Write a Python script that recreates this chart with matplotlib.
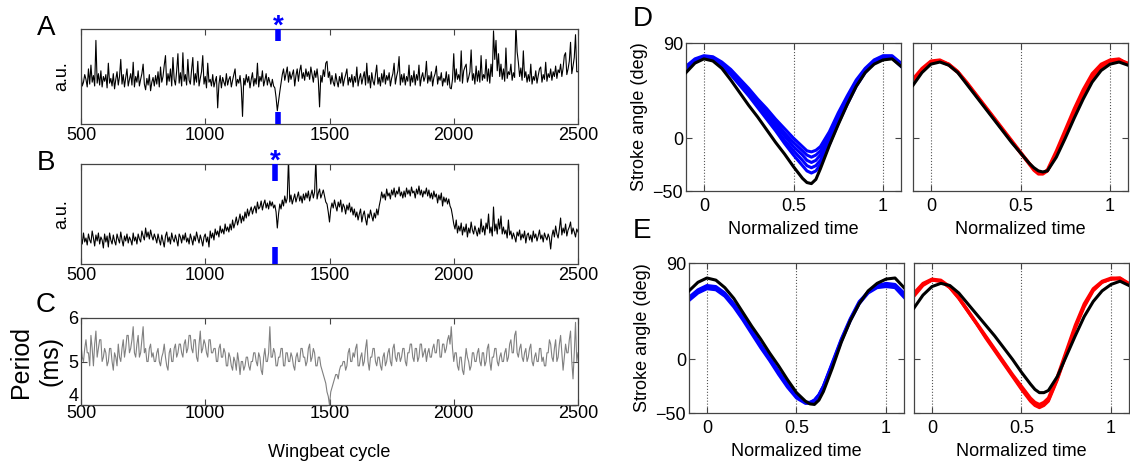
import matplotlib
matplotlib.use("Agg")
import matplotlib.pyplot as plt
from matplotlib.transforms import blended_transform_factory, offset_copy

plt.rcParams["font.family"] = ["Liberation Sans", "DejaVu Sans"]
plt.rcParams["font.size"] = 13

# ---- panels A-C: wingbeat cycles 500..2500, one value every 5 cycles
cycles = list(range(500, 2501, 5))

# A: a.u. (0 = bottom of box, 100 = top)
trace_a = [
    55, 40, 44, 52, 47, 39, 58, 42, 62, 44, 51, 40, 88, 43, 53, 41, 56, 39, 50, 45,
    52, 38, 64, 43, 48, 40, 53, 37, 47, 55, 41, 50, 68, 42, 52, 39, 49, 58, 40, 47,
    53, 41, 65, 39, 50, 44, 56, 40, 47, 53, 63, 42, 36, 48, 41, 52, 35, 44, 49, 40,
    51, 42, 55, 39, 60, 44, 50, 62, 72, 41, 53, 45, 58, 40, 70, 47, 41, 56, 74, 43,
    54, 40, 75, 45, 52, 41, 68, 46, 42, 57, 70, 41, 53, 44, 66, 40, 48, 55, 72, 42,
    50, 38, 64, 44, 47, 40, 52, 39, 45, 50, 17, 42, 51, 38, 49, 44, 40, 53, 41, 47,
    50, 39, 46, 52, 58, 40, 47, 43, 51, 38, 8, 48, 41, 52, 44, 50, 38, 47, 54, 40,
    48, 42, 64, 39, 50, 45, 56, 40, 46, 53, 41, 49, 44, 39, 47, 40, 38, 28, 14, 24,
    34, 43, 52, 58, 46, 53, 60, 44, 55, 47, 52, 57, 40, 51, 58, 45, 56, 62, 48, 54,
    46, 58, 50, 55, 47, 60, 52, 44, 56, 49, 58, 46, 18, 51, 44, 57, 50, 64, 66, 49,
    55, 42, 51, 44, 40, 53, 45, 39, 50, 43, 54, 40, 47, 52, 58, 41, 49, 44, 52, 39,
    50, 44, 60, 40, 48, 53, 42, 49, 55, 41, 64, 43, 51, 38, 54, 45, 41, 52, 62, 42,
    49, 40, 53, 44, 57, 42, 51, 46, 54, 40, 48, 53, 64, 42, 50, 56, 71, 41, 52, 44,
    53, 41, 50, 45, 62, 40, 51, 44, 56, 41, 52, 46, 62, 40, 49, 54, 45, 50, 66, 43,
    51, 45, 55, 40, 49, 53, 61, 42, 50, 46, 54, 40, 48, 44, 55, 41, 52, 38, 37, 47,
    74, 44, 58, 47, 52, 45, 77, 43, 56, 60, 63, 44, 49, 55, 78, 46, 53, 42, 61, 45,
    56, 44, 72, 46, 52, 48, 68, 45, 58, 43, 63, 50, 98, 68, 88, 56, 74, 50, 63, 47,
    58, 45, 80, 48, 55, 52, 63, 46, 54, 49, 105, 76, 65, 50, 59, 46, 77, 49, 55, 44,
    52, 45, 63, 42, 50, 46, 56, 43, 51, 58, 60, 44, 52, 47, 65, 45, 53, 49, 58, 46,
    55, 50, 61, 48, 57, 54, 63, 50, 59, 72, 75, 52, 58, 66, 86, 53, 61, 70, 94, 55,
    55,
]

# B: a.u. (0 = bottom of box, 100 = top)
trace_b = [
    28, 20, 31, 22, 26, 19, 30, 24, 21, 33, 26, 18, 29, 23, 31, 20, 27, 24, 16, 30,
    22, 28, 17, 31, 24, 20, 29, 23, 19, 30, 25, 21, 32, 24, 18, 28, 23, 30, 21, 27,
    24, 19, 31, 23, 27, 20, 30, 25, 22, 33, 28, 24, 36, 27, 32, 25, 34, 28, 24, 30,
    26, 21, 30, 24, 19, 29, 23, 17, 28, 32, 22, 27, 20, 31, 25, 22, 29, 24, 18, 30,
    27, 21, 29, 24, 31, 22, 26, 20, 30, 25, 19, 28, 23, 32, 26, 21, 29, 24, 18, 27,
    30, 22, 27, 17, 33, 26, 31, 24, 35, 29, 33, 27, 38, 31, 35, 30, 40, 33, 37, 32,
    40, 34, 44, 36, 41, 47, 39, 44, 50, 41, 48, 43, 52, 46, 55, 48, 53, 57, 50, 55,
    58, 51, 62, 55, 57, 63, 54, 60, 64, 56, 61, 55, 63, 58, 62, 56, 59, 52, 36, 50,
    60, 55, 64, 58, 68, 61, 66, 105, 62, 69, 60, 65, 70, 62, 67, 72, 63, 68, 61, 70,
    64, 71, 66, 73, 63, 69, 74, 66, 72, 105, 65, 71, 75, 66, 70, 74, 68, 62, 60, 52,
    42, 55, 61, 56, 64, 58, 53, 62, 57, 64, 52, 60, 57, 50, 59, 54, 61, 52, 57, 49,
    55, 47, 52, 44, 50, 55, 42, 49, 53, 45, 39, 50, 46, 54, 48, 43, 51, 46, 55, 49,
    58, 64, 72, 66, 70, 64, 75, 68, 71, 65, 74, 69, 76, 67, 73, 70, 77, 68, 72, 66,
    73, 67, 76, 70, 74, 68, 77, 71, 73, 66, 75, 70, 78, 69, 74, 67, 73, 70, 76, 68,
    74, 66, 71, 65, 73, 67, 70, 61, 69, 64, 71, 58, 67, 62, 66, 60, 65, 58, 55, 48,
    40, 35, 44, 31, 38, 33, 41, 29, 37, 32, 40, 27, 36, 31, 42, 34, 30, 38, 33, 28,
    36, 30, 45, 32, 38, 29, 41, 35, 50, 31, 37, 28, 57, 33, 40, 30, 45, 35, 48, 30,
    37, 30, 34, 26, 44, 29, 33, 25, 31, 27, 22, 32, 28, 34, 24, 30, 26, 33, 21, 29,
    31, 24, 29, 22, 33, 26, 30, 23, 28, 34, 25, 29, 22, 31, 27, 24, 30, 26, 15, 28,
    34, 27, 38, 30, 26, 35, 46, 29, 36, 31, 40, 28, 34, 37, 42, 30, 36, 32, 27, 35,
    32,
]

# C: wingbeat period (ms)
period = [
    5.4, 5.1, 5.0, 5.3, 5.5, 5.2, 5.2, 4.9, 5.6, 5.3, 4.9, 5.4, 5.7, 5.1, 5.3, 5.5, 5.5, 5.0, 5.1, 5.3,
    5.2, 4.9, 5.0, 5.3, 5.3, 5.0, 4.8, 5.2, 5.1, 4.9, 5.4, 5.1, 5.0, 5.3, 5.5, 5.1, 5.3, 5.6, 5.6, 5.2,
    5.3, 5.5, 5.8, 5.2, 5.1, 5.4, 5.6, 5.1, 5.2, 5.5, 5.8, 5.2, 5.3, 5.0, 5.0, 5.3, 5.4, 5.1, 5.2, 5.0,
    5.0, 5.2, 5.3, 5.0, 4.9, 5.1, 5.2, 5.4, 5.1, 4.9, 4.8, 5.2, 5.3, 5.0, 5.0, 5.3, 5.4, 5.1, 5.2, 5.4,
    5.4, 5.2, 5.1, 5.4, 5.5, 5.2, 5.3, 5.6, 5.6, 5.3, 5.2, 5.5, 5.5, 5.1, 5.0, 5.4, 5.7, 5.2, 5.3, 5.5,
    5.4, 5.2, 5.1, 5.5, 5.5, 5.2, 5.2, 5.3, 5.3, 5.0, 5.0, 5.3, 5.4, 5.1, 5.1, 5.3, 5.2, 4.9, 4.9, 5.2,
    5.1, 4.9, 4.8, 5.1, 5.0, 4.8, 5.2, 5.0, 4.7, 5.0, 5.0, 4.8, 4.9, 5.1, 5.1, 4.9, 4.8, 5.0, 5.0, 5.2,
    5.2, 5.0, 4.9, 5.2, 5.1, 4.8, 4.7, 5.1, 5.3, 5.0, 5.0, 5.2, 5.8, 5.1, 5.1, 5.3, 5.2, 4.9, 4.9, 5.1,
    5.1, 5.3, 5.3, 4.9, 4.9, 5.2, 5.2, 5.0, 5.0, 5.2, 5.1, 4.9, 4.8, 5.1, 5.2, 5.0, 5.0, 5.3, 5.3, 5.1,
    5.1, 4.9, 5.0, 5.3, 5.4, 5.0, 5.1, 5.3, 5.2, 4.9, 4.9, 5.1, 5.1, 4.9, 4.8, 4.7, 4.6, 4.5, 4.3, 4.2,
    4.0, 4.3, 4.4, 4.5, 4.6, 4.7, 4.7, 4.6, 4.8, 4.9, 4.9, 5.0, 5.0, 4.8, 4.9, 5.2, 5.3, 5.0, 5.0, 5.2,
    5.1, 5.3, 5.4, 4.9, 4.9, 5.1, 5.2, 4.9, 5.0, 5.3, 5.5, 5.0, 4.8, 5.1, 5.1, 5.3, 5.3, 5.0, 4.9, 5.1,
    5.1, 4.9, 4.8, 5.1, 5.2, 4.9, 5.0, 5.2, 5.3, 5.0, 4.9, 5.3, 5.4, 5.1, 5.0, 5.2, 5.2, 5.0, 5.1, 5.3,
    5.3, 5.0, 4.9, 5.2, 5.2, 5.4, 5.4, 5.1, 5.0, 5.3, 5.3, 5.0, 5.1, 5.4, 5.4, 5.1, 5.2, 5.3, 5.0, 5.2,
    5.3, 5.1, 5.1, 5.3, 5.4, 5.2, 5.2, 5.5, 5.5, 5.1, 5.1, 5.4, 5.4, 5.2, 5.3, 5.5, 5.6, 5.4, 5.8, 5.3,
    5.0, 5.2, 5.2, 4.9, 4.8, 5.1, 5.1, 4.8, 4.7, 5.0, 5.3, 5.1, 5.0, 4.8, 4.9, 5.2, 5.2, 5.0, 5.0, 5.2,
    5.3, 5.0, 4.9, 5.2, 5.2, 4.9, 5.0, 5.3, 5.4, 5.0, 4.8, 5.1, 5.1, 5.3, 5.3, 5.0, 4.9, 5.1, 5.2, 5.0,
    5.0, 5.2, 5.3, 5.0, 5.1, 5.4, 5.5, 5.2, 5.2, 5.6, 5.7, 5.2, 5.1, 5.3, 5.4, 5.1, 5.0, 5.2, 5.3, 5.0,
    5.1, 5.3, 5.4, 5.0, 4.9, 5.1, 5.2, 5.0, 5.0, 5.3, 5.3, 5.0, 5.1, 4.9, 4.9, 5.2, 5.2, 5.5, 5.4, 5.1,
    5.0, 5.3, 5.5, 5.0, 5.1, 5.4, 5.6, 5.2, 4.8, 5.1, 5.4, 5.2, 5.2, 5.5, 5.7, 5.0, 4.6, 5.2, 5.9, 5.0,
    5.2,
]

stim_a = 1292   # blue marker (*) in A
stim_b = 1280   # blue marker (*) in B

# ---- panels D-E: stroke angle (deg) vs normalized time
t_norm = [-0.1, -0.05, 0, 0.05, 0.1, 0.15, 0.2, 0.25, 0.3, 0.35, 0.4, 0.45, 0.5,
          0.55, 0.575, 0.6, 0.625, 0.65, 0.7, 0.75, 0.8, 0.85, 0.9, 0.95, 1.0, 1.05, 1.1]

d_left_blue = [
    [68, 75, 78, 77, 72, 65, 56, 47, 37, 28, 18, 9, 0, -8, -12, -13, -11.5, -8, 6, 24, 40, 55, 66, 74, 78, 78, 71],
    [67, 74, 77, 76, 71, 63, 54, 45, 35, 25, 15, 5, -4, -12, -16, -18, -16, -12, 3, 21, 38, 53, 65, 73, 77, 77, 70],
    [66, 73, 77, 75, 70, 62, 53, 43, 33, 23, 12, 2, -8, -16, -21, -23, -21, -16, 0, 18, 36, 51, 64, 72, 77, 77, 69],
    [65, 72, 76, 75, 69, 61, 51, 41, 31, 20, 9, -2, -12, -21, -26, -28, -26, -21, -3, 16, 34, 50, 63, 72, 77, 76, 68],
    [64, 72, 76, 74, 68, 60, 50, 40, 29, 18, 7, -5, -16, -26, -31, -33, -31, -25, -6, 14, 32, 49, 62, 71, 76, 76, 68],
]
d_left_black = [62, 71, 75, 73, 66, 55, 43, 31, 20, 8, -4, -15, -27, -38, -42, -43, -39, -29, -7, 13, 32, 49, 62, 70, 74, 75, 68]

d_right_red = [
    [56, 66, 73, 74, 70, 63, 53, 42, 31, 20, 9, -2, -13, -24, -29.5, -33, -33, -30, -12, 8, 28, 46, 61, 70, 74, 75, 70],
    [53, 64, 72, 73, 70, 63, 52, 41, 30, 19, 8, -3, -14, -25, -30.5, -34, -34, -31, -15, 5, 25, 43, 58, 68, 73, 74, 70],
    [52, 63, 71, 73, 69, 62, 52, 41, 30, 19, 8, -3, -14, -24, -29.5, -33, -33, -31, -16, 3, 22, 40, 56, 67, 73, 74, 71],
]
d_right_black = [50, 62, 70, 72, 69, 62, 51, 40, 29, 18, 7, -4, -14, -24, -28, -31, -32, -31, -18, 0, 19, 37, 53, 64, 70, 72, 69]

e_left_blue = [
    [58, 65, 69, 68, 62, 52, 40, 27, 14, 2, -11, -23, -34, -40, -40.5, -38, -33, -25, -4, 18, 37, 53, 63, 69, 71, 70, 62],
    [55, 62, 66, 65, 59, 49, 37, 24, 11, -1, -14, -26, -36, -41, -41, -39, -34, -26, -5, 17, 36, 52, 62, 67, 68, 67, 58],
    [57, 64, 68, 66, 60, 51, 39, 26, 13, 0, -12, -25, -35, -40, -40, -38, -33, -25, -3, 19, 38, 54, 63, 68, 70, 69, 60],
]
e_left_black = [64, 72, 76, 74, 67, 57, 44, 31, 19, 6, -6, -19, -31, -39, -41.5, -42, -38, -30, -8, 16, 36, 52, 64, 71, 75, 76, 67]

e_right_red = [
    [62, 71, 75, 74, 68, 58, 46, 34, 22, 10, -2, -14, -25, -36, -40, -42, -40, -36, -16, 8, 32, 52, 66, 73, 76, 76, 71],
    [59, 69, 74, 73, 67, 57, 45, 33, 20, 8, -4, -16, -28, -39, -43, -45, -43, -39, -19, 5, 29, 49, 64, 72, 75, 75, 70],
    [60, 70, 74, 73, 67, 57, 45, 33, 21, 9, -3, -15, -27, -38, -42, -44, -42, -38, -18, 6, 30, 50, 65, 72, 75, 76, 70],
]
e_right_black = [48, 60, 68, 71, 69, 62, 52, 42, 32, 22, 11, 0, -12, -23, -28, -31, -31, -29, -16, 3, 22, 40, 54, 64, 70, 73, 69]

W, H = 1130, 463
fig = plt.figure(figsize=(W / 100, H / 100), dpi=100)


def px_axes(x0, y0, x1, y1):
    return fig.add_axes([x0 / W, 1 - y1 / H, (x1 - x0) / W, (y1 - y0) / H])


def style(ax):
    for s in ax.spines.values():
        s.set_color("#444444")
        s.set_linewidth(0.9)
    ax.tick_params(direction="in", top=True, right=True, length=4,
                   color="#444444", width=0.8, pad=2)


def trace_panel(ax, y, color, stim, bar_frac):
    ax.plot(cycles[:len(y)], y, color=color, lw=0.8)
    ax.set_xlim(500, 2500)
    ax.set_xticks([500, 1000, 1500, 2000, 2500])
    style(ax)
    if stim is not None:
        tr = blended_transform_factory(ax.transData, ax.transAxes)
        ax.plot([stim, stim], [1 - bar_frac, 1], transform=tr, color="blue",
                lw=4, solid_capstyle="butt", clip_on=False, zorder=5)
        ax.plot([stim, stim], [0, bar_frac], transform=tr, color="blue",
                lw=4, solid_capstyle="butt", clip_on=False, zorder=5)
        star_tr = offset_copy(tr, fig=fig, y=-5, units="dots")
        ax.text(stim, 1.0, "*", transform=star_tr, color="blue", fontsize=20,
                fontweight="bold", ha="center", va="baseline", clip_on=False)


ax_a = px_axes(81, 29, 578, 124)
trace_panel(ax_a, trace_a, "black", stim_a, 0.13)
ax_a.set_ylim(0, 100)
ax_a.set_yticks([])
ax_a.set_ylabel("a.u.", labelpad=8)

ax_b = px_axes(81, 164, 578, 264)
trace_panel(ax_b, trace_b, "black", stim_b, 0.17)
ax_b.set_ylim(0, 100)
ax_b.set_yticks([])
ax_b.set_ylabel("a.u.", labelpad=8)

ax_c = px_axes(81, 318, 578, 405)
trace_panel(ax_c, period, "#808080", None, 0)
ax_c.set_ylim(4, 6)
ax_c.set_yticks([4, 5, 6])
ax_c.tick_params(axis="x", pad=0)
ax_c.get_yticklabels()[0].set_va("bottom")
ax_c.set_ylabel("Period\n(ms)", labelpad=4, fontsize=18, linespacing=1.3)
ax_c.set_xlabel("Wingbeat cycle", labelpad=16)


def stroke_panel(ax, band, band_color, black, left):
    for x in (0, 0.5, 1):
        ax.axvline(x, color="#555555", ls=":", lw=0.8, zorder=1)
    for curve in band:
        ax.plot(t_norm, curve, color=band_color, lw=2.2, zorder=2)
    ax.plot(t_norm, black, color="black", lw=2.2, zorder=3)
    ax.set_xlim(-0.1, 1.1)
    ax.set_ylim(-50, 90)
    ax.set_xticks([0, 0.5, 1])
    ax.set_xticklabels(["0", "0.5", "1"])
    ax.set_yticks([-50, 0, 90])
    style(ax)
    ax.tick_params(axis="x", pad=5)
    ax.set_xlabel("Normalized time", labelpad=4)
    if left:
        ax.set_ylabel("Stroke angle (deg)", labelpad=3)
    else:
        ax.tick_params(labelleft=False)


ax_d1 = px_axes(686, 43, 901, 191)
stroke_panel(ax_d1, d_left_blue, "blue", d_left_black, True)
ax_d2 = px_axes(913, 43, 1128, 191)
stroke_panel(ax_d2, d_right_red, "red", d_right_black, False)
ax_e1 = px_axes(689, 263, 904, 413)
stroke_panel(ax_e1, e_left_blue, "blue", e_left_black, True)
ax_e2 = px_axes(914, 263, 1129, 413)
stroke_panel(ax_e2, e_right_red, "red", e_right_black, False)

# panel letters
for letter, x, y in [("A", 46, 28), ("B", 46, 163), ("C", 46, 305),
                     ("D", 643, 19), ("E", 642, 231)]:
    fig.text(x / W, 1 - y / H, letter, fontsize=20, ha="center", va="center")

fig.savefig("out.png", dpi=100)
